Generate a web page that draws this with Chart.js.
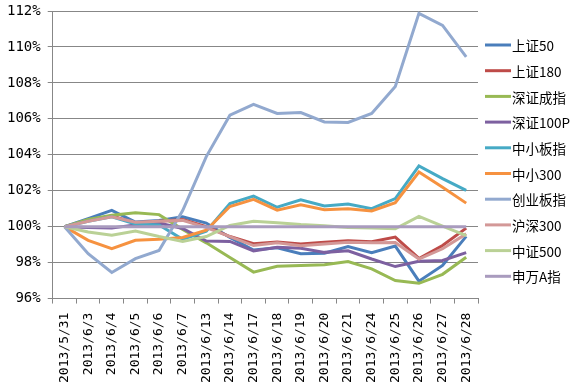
<!DOCTYPE html>
<html>
<head>
<meta charset="utf-8">
<script src="https://cdn.jsdelivr.net/npm/chart.js@4"></script>
<style>
  html, body { margin: 0; padding: 0; background: #fff; }
  #wrap { width: 570px; height: 386px; position: relative; }
</style>
</head>
<body>
<div id="wrap"><canvas id="indexChart"></canvas></div>
<script>
// Trading days
const dates = ['2013/5/31', '2013/6/3', '2013/6/4', '2013/6/5', '2013/6/6', '2013/6/7',
    '2013/6/13', '2013/6/14', '2013/6/17', '2013/6/18', '2013/6/19', '2013/6/20',
    '2013/6/21', '2013/6/24', '2013/6/25', '2013/6/26', '2013/6/27', '2013/6/28'];

// Relative performance vs 申万A指 (%)
const sz50 = [100, 100.45, 100.91, 100.26, 100.35, 100.55, 100.2, 99.4, 98.7, 98.82, 98.5, 98.52, 98.9, 98.55, 98.92, 96.97, 97.84, 99.46];
const sz180 = [100, 100.35, 100.6, 100.2, 100.3, 100.4, 100.0, 99.45, 99.05, 99.15, 99.03, 99.13, 99.22, 99.16, 99.42, 98.23, 98.95, 99.92];
const szcz = [100, 100.4, 100.63, 100.78, 100.67, 99.85, 99.1, 98.28, 97.47, 97.8, 97.84, 97.88, 98.06, 97.65, 97.0, 96.85, 97.35, 98.3];
const sz100p = [100, 99.96, 99.92, 100.1, 100.2, 99.9, 99.2, 99.18, 98.65, 98.85, 98.8, 98.57, 98.66, 98.2, 97.78, 98.08, 98.12, 98.56];
const zxbz = [100, 100.3, 100.55, 100.15, 100.1, 99.3, 99.75, 101.28, 101.7, 101.08, 101.5, 101.15, 101.26, 101.0, 101.56, 103.38, 102.67, 102.02];
const zx300 = [100, 99.24, 98.77, 99.24, 99.3, 99.4, 99.8, 101.12, 101.52, 100.92, 101.22, 100.94, 101.0, 100.87, 101.33, 103.04, 102.19, 101.31];
const cybz = [100, 98.5, 97.45, 98.22, 98.68, 100.9, 103.9, 106.2, 106.8, 106.3, 106.35, 105.83, 105.8, 106.3, 107.8, 111.87, 111.2, 109.45];
const hs300 = [100, 100.3, 100.55, 100.25, 100.3, 100.35, 99.95, 99.45, 98.95, 99.1, 98.94, 99.03, 99.13, 99.1, 99.12, 98.2, 98.77, 99.6];
const zz500 = [100, 99.7, 99.52, 99.76, 99.45, 99.18, 99.45, 100.07, 100.3, 100.22, 100.12, 100.05, 99.96, 99.92, 99.88, 100.57, 100.03, 99.5];
const swa = [100, 100, 100, 100, 100, 100, 100, 100, 100, 100, 100, 100, 100, 100, 100, 100, 100, 100];

const seriesNames = ['上证50', '上证180', '深证成指', '深证100P', '中小板指', '中小300', '创业板指', '沪深300', '中证500', '申万A指'];
const seriesData = [sz50, sz180, szcz, sz100p, zxbz, zx300, cybz, hs300, zz500, swa];
const seriesColors = ['#4A7EBB', '#BE4B48', '#98B954', '#7D60A0', '#46AAC5', '#F69240',
    '#92A9CF', '#D39897', '#BAD196', '#A99BBE'];

const yTicks = [96, 98, 100, 102, 104, 106, 108, 110, 112];

const gridColor = '#878787';

// Excel-style legend on the right
const sideLegend = {
    id: 'sideLegend',
    afterDraw(chart) {
        const ctx = chart.ctx;
        ctx.save();
        chart.data.datasets.forEach((ds, i) => {
            const y = 45 + i * 25.7;
            ctx.strokeStyle = ds.borderColor;
            ctx.lineWidth = 3;
            ctx.beginPath();
            ctx.moveTo(485, y);
            ctx.lineTo(511, y);
            ctx.stroke();
            ctx.fillStyle = '#000';
            ctx.font = '13.5px "Noto Sans CJK SC"';
            ctx.textBaseline = 'middle';
            ctx.fillText(ds.label, 512, y + 1);
        });
        ctx.restore();
    },
};

const ctx = document.getElementById('indexChart').getContext('2d');

new Chart(ctx, {
    type: 'line',
    data: {
        labels: dates,
        datasets: seriesNames.map((name, i) => ({
            label: name,
            data: seriesData[i],
            borderColor: seriesColors[i],
            backgroundColor: seriesColors[i],
            borderWidth: 3,
            pointRadius: 0,
            tension: 0,
            order: seriesNames.length - i, // later series on top, as in Excel
        })),
    },
    options: {
        responsive: true,
        maintainAspectRatio: false,
        animation: false,
        layout: {
            padding: { top: 11, right: 92, bottom: -6, left: 0 },
        },
        plugins: {
            legend: { display: false },
            tooltip: { enabled: false },
        },
        scales: {
            x: {
                type: 'category',
                offset: true,
                grid: {
                    offset: true,
                    drawOnChartArea: false,
                    drawTicks: true,
                    tickLength: 5,
                    color: gridColor,
                },
                border: { color: gridColor },
                ticks: {
                    autoSkip: false,
                    minRotation: 90,
                    maxRotation: 90,
                    padding: 9,
                    color: '#000',
                    font: { family: 'DejaVu Sans Mono', size: 13 },
                },
            },
            y: {
                min: 96,
                max: 112,
                afterBuildTicks(axis) {
                    axis.ticks = yTicks.map((v) => ({ value: v }));
                },
                grid: {
                    color: gridColor,
                    tickLength: 5,
                },
                border: { color: gridColor },
                ticks: {
                    padding: 7,
                    color: '#000',
                    font: { family: 'DejaVu Sans Mono', size: 14, lineHeight: 0.5 },
                    callback: (v) => v + '%',
                },
            },
        },
    },
    plugins: [sideLegend],
});
</script>
</body>
</html>
